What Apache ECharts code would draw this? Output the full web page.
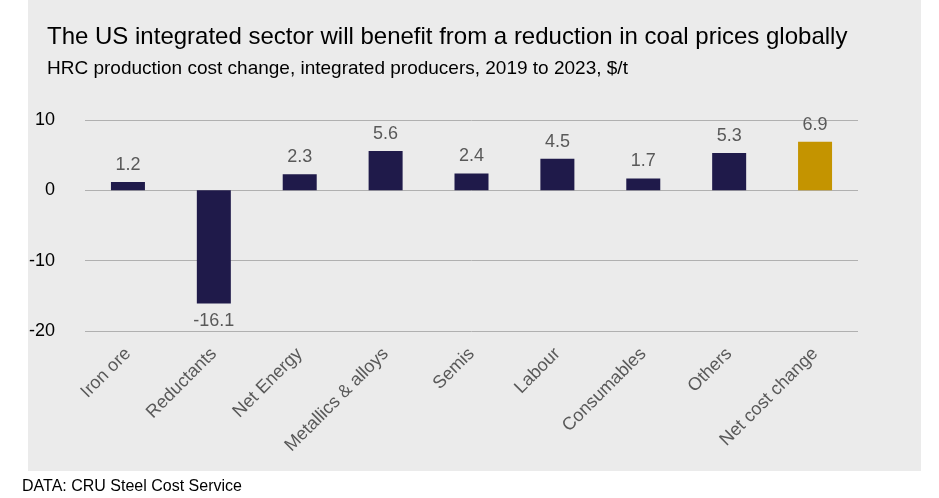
<!DOCTYPE html>
<html><head><meta charset="utf-8">
<script src="https://cdn.jsdelivr.net/npm/echarts@6/dist/echarts.min.js"></script>
<style>
body{margin:0;width:939px;height:498px;background:#fff;position:relative;font-family:Arial,"Liberation Sans",sans-serif;}
#panel{position:absolute;left:28px;top:0;width:893px;height:471px;background:#ebebeb;}
#c{position:absolute;left:0;top:0;width:939px;height:498px;}
#foot{position:absolute;left:22px;top:477px;font-size:16px;color:#000;}
</style></head><body>
<div id="panel"></div>
<div id="c"></div>
<div id="foot">DATA: CRU Steel Cost Service</div>
<script>
const categories=["Iron ore","Reductants","Net Energy","Metallics & alloys","Semis","Labour","Consumables","Others","Net cost change"];
const values=[1.2,-16.1,2.3,5.6,2.4,4.5,1.7,5.3,6.9];
const colors=["#1f1a4a","#1f1a4a","#1f1a4a","#1f1a4a","#1f1a4a","#1f1a4a","#1f1a4a","#1f1a4a","#c49400"];
const chart=echarts.init(document.getElementById('c'));
chart.setOption({
 animation:false,
 title:{text:"The US integrated sector will benefit from a reduction in coal prices globally",
  subtext:"HRC production cost change, integrated producers, 2019 to 2023, $/t",
  left:42,top:20,itemGap:10,
  textStyle:{fontFamily:"Liberation Sans",fontSize:24,fontWeight:"normal",color:"#000"},
  subtextStyle:{fontFamily:"Liberation Sans",fontSize:19,color:"#000"}},
 grid:{left:85,right:81,top:120,bottom:167,containLabel:false},
 xAxis:{type:"category",data:categories,axisTick:{show:false},
  axisLine:{show:false},
  axisLabel:{rotate:45,fontFamily:"Liberation Sans",fontSize:18,color:"#595959",margin:20,interval:0}},
 yAxis:{type:"value",min:-20,max:10,interval:10,
  axisLabel:{fontFamily:"Liberation Sans",fontSize:18,color:"#000",margin:30},
  splitLine:{lineStyle:{color:"#b0b0b0"}}},
 series:[{type:"bar",barWidth:34,
  data:values.map((v,i)=>({value:v,itemStyle:{color:colors[i]}})),
  label:{show:true,fontFamily:"Liberation Sans",fontSize:18,color:"#595959",
   formatter:p=>p.value.toFixed(1),position:"outside",distance:8}}]
});
</script></body></html>
